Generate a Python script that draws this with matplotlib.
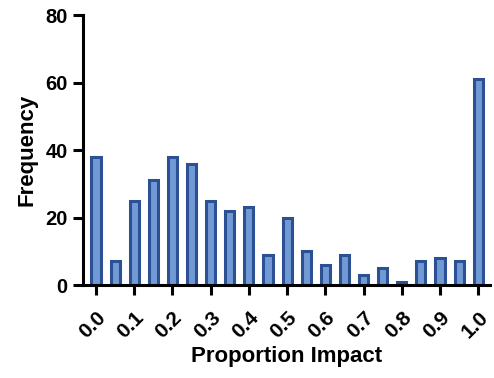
import matplotlib
matplotlib.use("Agg")
import matplotlib.pyplot as plt
import numpy as np

bins = [round(0.05 * i, 2) for i in range(21)]
freq = [38, 7, 25, 31, 38, 36, 25, 22, 23, 9, 20, 10, 6, 9, 3, 5, 1, 7, 8, 7, 61]
xticks = [0.0, 0.1, 0.2, 0.3, 0.4, 0.5, 0.6, 0.7, 0.8, 0.9, 1.0]
xticklabels = ["0.0", "0.1", "0.2", "0.3", "0.4", "0.5", "0.6", "0.7", "0.8", "0.9", "1.0"]
yticks = [0, 20, 40, 60, 80]

plt.rcParams['font.family'] = ['Liberation Sans', 'DejaVu Sans']
plt.rcParams['font.weight'] = 'bold'

fig = plt.figure(figsize=(4.94, 3.78), dpi=100)
ax = fig.add_axes([0.168, 0.246, 0.824, 0.714])

ax.bar(bins, freq, width=0.024, color='#7199d3', edgecolor='#2b5194', linewidth=2.2)

ax.set_xlim(-0.034, 1.031)
ax.set_ylim(0, 80)
ax.set_yticks(yticks)
ax.set_xticks(xticks)
ax.set_xticklabels(xticklabels, rotation=45, ha='right', rotation_mode='anchor')
ax.tick_params(axis='both', direction='out', length=7.5, width=2.2, labelsize=14.5)
ax.tick_params(axis='x', pad=9, labelsize=15)
for lab in ax.get_xticklabels() + ax.get_yticklabels():
    lab.set_fontweight('bold')

for s in ['top', 'right']:
    ax.spines[s].set_visible(False)
for s in ['left', 'bottom']:
    ax.spines[s].set_linewidth(2.2)

ax.set_xlabel('Proportion Impact', fontsize=16, fontweight='bold', labelpad=3)
ax.set_ylabel('Frequency', fontsize=16, fontweight='bold', labelpad=6)

fig.savefig('out.png', dpi=100)
